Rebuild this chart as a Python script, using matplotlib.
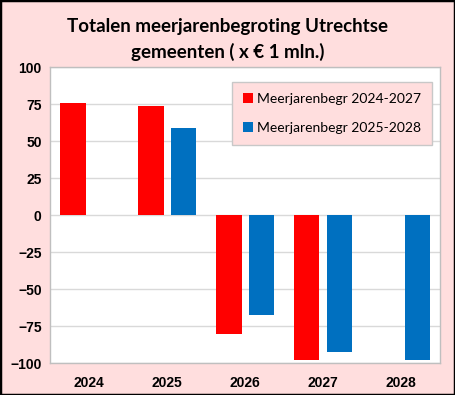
import numpy as np
import matplotlib.pyplot as plt
from matplotlib.patches import Rectangle

# data
years = ['2024', '2025', '2026', '2027', '2028']
begr_2024_2027 = [75.5, 73.5, -80, -98, np.nan]
begr_2025_2028 = [np.nan, 59, -67.5, -92.5, -97.5]
series_names = ['Meerjarenbegr 2024-2027', 'Meerjarenbegr 2025-2028']

PINK = '#FFDEDE'
RED = '#FF0000'
BLUE = '#0070C0'

fig = plt.figure(figsize=(4.55, 3.95), dpi=100, facecolor=PINK)
ax = fig.add_axes([0.110, 0.080, 0.857, 0.750])
ax.set_facecolor('white')

x = np.arange(len(years))
w = 0.33
ax.bar(x - 0.21, begr_2024_2027, w, color=RED, label=series_names[0], zorder=3)
ax.bar(x + 0.21, begr_2025_2028, w, color=BLUE, label=series_names[1], zorder=3)

ax.set_xlim(-0.5, len(years) - 0.5)
ax.set_ylim(-100, 100)
ax.set_yticks(np.arange(-100, 101, 25))
ax.set_xticks(x)
ax.set_xticklabels(years)
ax.yaxis.grid(True, color='#D9D9D9', lw=1, zorder=0)
ax.tick_params(length=0, labelsize=10, pad=6)
for lab in ax.get_xticklabels() + ax.get_yticklabels():
    lab.set_fontweight('bold')
    lab.set_family('Liberation Sans')
ax.tick_params(axis='x', pad=9)
for s in ax.spines.values():
    s.set_color('#BFBFBF')
    s.set_linewidth(1)

leg = ax.legend(loc='upper right', bbox_to_anchor=(0.968, 0.935), frameon=True,
                fancybox=False, facecolor=PINK, edgecolor='#C8C8C8', framealpha=1,
                prop={'family': 'Lato', 'size': 10}, handlelength=0.7, handleheight=0.7,
                handletextpad=0.3, labelspacing=1.25, borderpad=0.45, borderaxespad=0)
leg.get_frame().set_boxstyle('square', pad=0.35)

fig.text(0.5, 0.932, 'Totalen meerjarenbegroting Utrechtse', ha='center', va='center',
         fontsize=13.5, fontweight='bold', family='Lato')
fig.text(0.5, 0.868, 'gemeenten ( x € 1 mln.)', ha='center', va='center',
         fontsize=13.5, fontweight='bold', family='Lato')

# outer black frame
fig.patches.append(Rectangle((0, 0), 1, 1, transform=fig.transFigure, fill=False,
                             edgecolor='black', lw=2.5))

fig.savefig('out.png', dpi=100, facecolor=PINK)
